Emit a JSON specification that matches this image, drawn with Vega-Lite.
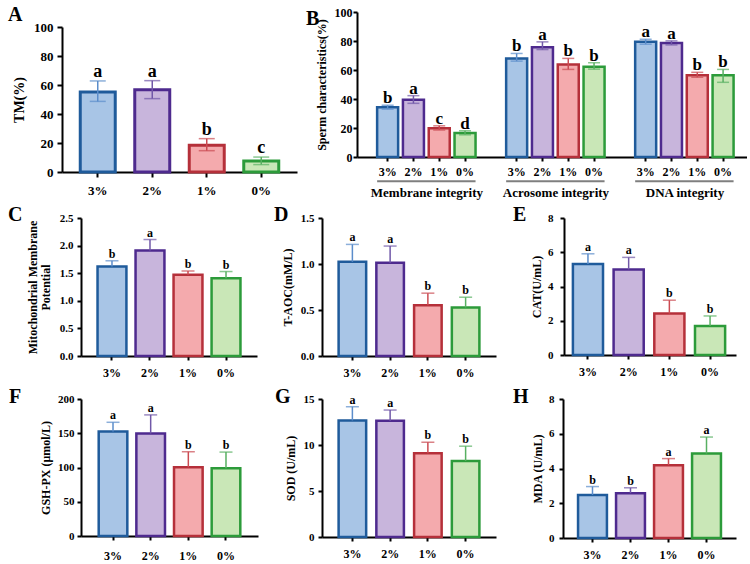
{
  "$schema": "https://vega.github.io/schema/vega-lite/v6.json",
  "padding": {"left": 8, "top": 5, "right": 0, "bottom": 0},
  "columns": 1,
  "align": "none",
  "spacing": 5,
  "datasets": {
    "A": [
      {"conc": "3%", "mean": 55.2, "lower": 48.7, "upper": 62.8, "sig": "a"},
      {"conc": "2%", "mean": 56.8, "lower": 50.6, "upper": 63.0, "sig": "a"},
      {"conc": "1%", "mean": 18.4, "lower": 14.7, "upper": 23.0, "sig": "b"},
      {"conc": "0%", "mean": 7.6, "lower": 5.1, "upper": 10.3, "sig": "c"}
    ],
    "B": [
      {"bar": "Membrane 3%", "conc": "3%", "mean": 34.3, "lower": 33.0, "upper": 35.7, "sig": "b"},
      {"bar": "Membrane 2%", "conc": "2%", "mean": 39.4, "lower": 37.0, "upper": 42.3, "sig": "a"},
      {"bar": "Membrane 1%", "conc": "1%", "mean": 19.9, "lower": 18.6, "upper": 21.5, "sig": "c"},
      {"bar": "Membrane 0%", "conc": "0%", "mean": 16.5, "lower": 15.3, "upper": 18.1, "sig": "d"},
      {"bar": "Acrosome 3%", "conc": "3%", "mean": 68.0, "lower": 66.1, "upper": 71.4, "sig": "b"},
      {"bar": "Acrosome 2%", "conc": "2%", "mean": 75.7, "lower": 74.1, "upper": 79.4, "sig": "a"},
      {"bar": "Acrosome 1%", "conc": "1%", "mean": 63.8, "lower": 60.4, "upper": 68.0, "sig": "b"},
      {"bar": "Acrosome 0%", "conc": "0%", "mean": 62.2, "lower": 60.6, "upper": 65.0, "sig": "b"},
      {"bar": "DNA 3%", "conc": "3%", "mean": 79.4, "lower": 77.8, "upper": 81.2, "sig": "a"},
      {"bar": "DNA 2%", "conc": "2%", "mean": 78.7, "lower": 77.3, "upper": 80.1, "sig": "a"},
      {"bar": "DNA 1%", "conc": "1%", "mean": 56.3, "lower": 55.0, "upper": 58.4, "sig": "b"},
      {"bar": "DNA 0%", "conc": "0%", "mean": 56.3, "lower": 51.5, "upper": 60.4, "sig": "b"}
    ],
    "Bgroups": [
      {"group": "Membrane integrity", "first": "Membrane 3%", "last": "Membrane 0%", "mid": "Membrane 2%"},
      {"group": "Acrosome integrity", "first": "Acrosome 3%", "last": "Acrosome 0%", "mid": "Acrosome 2%"},
      {"group": "DNA integrity", "first": "DNA 3%", "last": "DNA 0%", "mid": "DNA 2%"}
    ],
    "C": [
      {"conc": "3%", "mean": 1.62, "lower": 1.62, "upper": 1.725, "sig": "b"},
      {"conc": "2%", "mean": 1.91, "lower": 1.91, "upper": 2.11, "sig": "a"},
      {"conc": "1%", "mean": 1.47, "lower": 1.47, "upper": 1.54, "sig": "b"},
      {"conc": "0%", "mean": 1.41, "lower": 1.41, "upper": 1.53, "sig": "b"}
    ],
    "D": [
      {"conc": "3%", "mean": 1.024, "lower": 1.024, "upper": 1.213, "sig": "a"},
      {"conc": "2%", "mean": 1.013, "lower": 1.013, "upper": 1.195, "sig": "a"},
      {"conc": "1%", "mean": 0.552, "lower": 0.552, "upper": 0.683, "sig": "b"},
      {"conc": "0%", "mean": 0.527, "lower": 0.527, "upper": 0.639, "sig": "b"}
    ],
    "E": [
      {"conc": "3%", "mean": 5.31, "lower": 5.31, "upper": 5.91, "sig": "a"},
      {"conc": "2%", "mean": 5.0, "lower": 5.0, "upper": 5.7, "sig": "a"},
      {"conc": "1%", "mean": 2.42, "lower": 2.42, "upper": 3.2, "sig": "b"},
      {"conc": "0%", "mean": 1.7, "lower": 1.7, "upper": 2.28, "sig": "b"}
    ],
    "F": [
      {"conc": "3%", "mean": 152.5, "lower": 152.5, "upper": 166, "sig": "a"},
      {"conc": "2%", "mean": 149.6, "lower": 149.6, "upper": 176.8, "sig": "a"},
      {"conc": "1%", "mean": 100.2, "lower": 100.2, "upper": 123, "sig": "b"},
      {"conc": "0%", "mean": 98.8, "lower": 98.8, "upper": 122.5, "sig": "b"}
    ],
    "G": [
      {"conc": "3%", "mean": 12.67, "lower": 12.67, "upper": 14.16, "sig": "a"},
      {"conc": "2%", "mean": 12.63, "lower": 12.63, "upper": 13.8, "sig": "a"},
      {"conc": "1%", "mean": 9.1, "lower": 9.1, "upper": 10.3, "sig": "b"},
      {"conc": "0%", "mean": 8.26, "lower": 8.26, "upper": 9.87, "sig": "b"}
    ],
    "H": [
      {"conc": "3%", "mean": 2.48, "lower": 2.48, "upper": 2.96, "sig": "b"},
      {"conc": "2%", "mean": 2.58, "lower": 2.58, "upper": 2.89, "sig": "b"},
      {"conc": "1%", "mean": 4.19, "lower": 4.19, "upper": 4.57, "sig": "a"},
      {"conc": "0%", "mean": 4.86, "lower": 4.86, "upper": 5.81, "sig": "a"}
    ]
  },
  "concat": [
    {
      "spacing": -10,
      "hconcat": [
        {
          "data": {"name": "A"},
          "width": 216,
          "height": 160,
          "title": {"text": "A", "dx": -73, "offset": -13.2},
          "encoding": {
            "x": {"field": "conc", "type": "nominal", "title": null,
                  "scale": {"domain": ["3%", "2%", "1%", "0%"], "range": [-19, 216], "paddingInner": 0.358, "paddingOuter": 0.335},
                  "axis": {"labelFontSize": 13, "tickSize": 5, "labelPadding": 7}}
          },
          "layer": [
            {
              "mark": {"type": "bar", "strokeWidth": 3},
              "encoding": {
                "y": {"field": "mean", "type": "quantitative", "scale": {"domain": [0, 100], "range": [160, 15], "nice": false},
                      "axis": {"title": "TM(%)", "offset": 19, "values": [0, 20, 40, 60, 80, 100], "tickCount": 20, "format": "d", "labelOverlap": false, "labelFontSize": 13, "titleFontSize": 14, "tickSize": 5, "labelPadding": 4, "titlePadding": 7}},
                "fill": {"field": "conc", "type": "nominal", "legend": null, "scale": {"domain": ["3%", "2%", "1%", "0%"], "range": ["#a8c5e6", "#c8b5dc", "#f4aaad", "#c9e7b7"]}},
                "stroke": {"field": "conc", "type": "nominal", "legend": null, "scale": {"domain": ["3%", "2%", "1%", "0%"], "range": ["#1f5b9b", "#4e2a8e", "#b5303a", "#2c9b3a"]}}
              }
            },
            {
              "mark": "rule",
              "encoding": {
                "y": {"field": "lower", "type": "quantitative"},
                "y2": {"field": "upper"},
                "color": {"field": "conc", "type": "nominal", "legend": null, "scale": {"domain": ["3%", "2%", "1%", "0%"], "range": ["#5b8dcb", "#7158a8", "#cb4b52", "#58b062"]}}
              }
            },
            {
              "mark": {"type": "tick", "size": 16},
              "encoding": {
                "y": {"field": "upper", "type": "quantitative"},
                "color": {"field": "conc", "type": "nominal", "legend": null}
              }
            },
            {
              "mark": {"type": "tick", "size": 16},
              "encoding": {
                "y": {"field": "lower", "type": "quantitative"},
                "color": {"field": "conc", "type": "nominal", "legend": null}
              }
            },
            {
              "mark": {"type": "text", "fontSize": 18, "dy": -4},
              "encoding": {
                "y": {"field": "upper", "type": "quantitative"},
                "text": {"field": "sig"}
              }
            }
          ]
        },
        {
          "data": {"name": "B"},
          "width": 390,
          "height": 145,
          "title": {"text": "B", "dx": -51, "offset": -23},
          "layer": [
            {
              "mark": {"type": "bar", "strokeWidth": 2.5},
              "encoding": {
                "x": {"field": "bar", "type": "nominal", "title": null,
                      "scale": {"domain": ["Membrane 3%", "Membrane 2%", "Membrane 1%", "Membrane 0%", "gap1", "Acrosome 3%", "Acrosome 2%", "Acrosome 1%", "Acrosome 0%", "gap2", "DNA 3%", "DNA 2%", "DNA 1%", "DNA 0%"], "paddingInner": 0.186, "paddingOuter": 0.65, "align": 0.6},
                      "axis": {"values": ["Membrane 3%", "Membrane 2%", "Membrane 1%", "Membrane 0%", "Acrosome 3%", "Acrosome 2%", "Acrosome 1%", "Acrosome 0%", "DNA 3%", "DNA 2%", "DNA 1%", "DNA 0%"], "labelExpr": "split(datum.label, ' ')[1]", "labelFontSize": 12, "labelPadding": 5.5}},
                "y": {"field": "mean", "type": "quantitative", "scale": {"domain": [0, 100], "nice": false},
                      "axis": {"title": "Sperm characteristics(%)", "values": [0, 20, 40, 60, 80, 100], "tickCount": 20, "format": "d", "labelOverlap": false, "labelFontSize": 12, "labelPadding": 1, "titlePadding": 6}},
                "fill": {"field": "conc", "type": "nominal", "legend": null, "scale": {"domain": ["3%", "2%", "1%", "0%"], "range": ["#a8c5e6", "#c8b5dc", "#f4aaad", "#c9e7b7"]}},
                "stroke": {"field": "conc", "type": "nominal", "legend": null, "scale": {"domain": ["3%", "2%", "1%", "0%"], "range": ["#1f5b9b", "#4e2a8e", "#b5303a", "#2c9b3a"]}}
              }
            },
            {
              "mark": "rule",
              "encoding": {
                "x": {"field": "bar", "type": "nominal"},
                "y": {"field": "lower", "type": "quantitative"},
                "y2": {"field": "upper"},
                "color": {"field": "conc", "type": "nominal", "legend": null}
              }
            },
            {
              "mark": {"type": "tick", "size": 12},
              "encoding": {
                "x": {"field": "bar", "type": "nominal"},
                "y": {"field": "upper", "type": "quantitative"},
                "color": {"field": "conc", "type": "nominal", "legend": null}
              }
            },
            {
              "mark": {"type": "tick", "size": 12},
              "encoding": {
                "x": {"field": "bar", "type": "nominal"},
                "y": {"field": "lower", "type": "quantitative"},
                "color": {"field": "conc", "type": "nominal", "legend": null}
              }
            },
            {
              "mark": {"type": "text", "fontSize": 17, "dy": -2},
              "encoding": {
                "x": {"field": "bar", "type": "nominal"},
                "y": {"field": "upper", "type": "quantitative"},
                "text": {"field": "sig"}
              }
            },
            {
              "data": {"name": "Bgroups"},
              "mark": {"type": "rule", "color": "#7f7f7f", "strokeWidth": 2},
              "encoding": {
                "x": {"field": "first", "type": "nominal", "bandPosition": 0},
                "x2": {"field": "last", "bandPosition": 1},
                "y": {"datum": -16.8}
              }
            },
            {
              "data": {"name": "Bgroups"},
              "mark": {"type": "text", "baseline": "middle", "dy": 0, "dx": 3, "fontSize": 13},
              "encoding": {
                "x": {"field": "mid", "type": "nominal", "bandPosition": 1},
                "y": {"datum": -24.6},
                "text": {"field": "group"}
              }
            }
          ]
        }
      ]
    },
    {
      "spacing": 8,
      "vconcat": [
        {
          "spacing": 17,
          "hconcat": [
            {
              "data": {"name": "C"},
              "width": 176,
              "height": 138,
              "title": {"text": "C", "dx": -73, "offset": -13},
              "encoding": {
                "x": {"field": "conc", "type": "nominal", "title": null,
                      "scale": {"domain": ["3%", "2%", "1%", "0%"], "paddingInner": 0.24, "paddingOuter": 0.435}}
              },
              "layer": [
                {
                  "mark": "bar",
                  "encoding": {
                    "y": {"field": "mean", "type": "quantitative", "scale": {"domain": [0, 2.5], "nice": false},
                          "axis": {"title": ["Mitochondrial Membrane", "Potential"], "values": [0, 0.5, 1, 1.5, 2, 2.5], "tickCount": 20, "format": ".1f", "labelOverlap": false, "labelPadding": 4, "titlePadding": 7}},
                    "fill": {"field": "conc", "type": "nominal", "legend": null},
                    "stroke": {"field": "conc", "type": "nominal", "legend": null}
                  }
                },
                {"mark": "rule", "encoding": {"y": {"field": "lower", "type": "quantitative"}, "y2": {"field": "upper"}, "color": {"field": "conc", "type": "nominal", "legend": null}}},
                {"mark": {"type": "tick", "size": 13}, "encoding": {"y": {"field": "upper", "type": "quantitative"}, "color": {"field": "conc", "type": "nominal", "legend": null}}},
                {"mark": "text", "encoding": {"y": {"field": "upper", "type": "quantitative"}, "text": {"field": "sig"}}}
              ]
            },
            {
              "data": {"name": "D"},
              "width": 174,
              "height": 138,
              "title": {"text": "D", "dx": -48, "offset": -13},
              "encoding": {
                "x": {"field": "conc", "type": "nominal", "title": null,
                      "scale": {"domain": ["3%", "2%", "1%", "0%"], "paddingInner": 0.27, "paddingOuter": 0.44}}
              },
              "layer": [
                {
                  "mark": "bar",
                  "encoding": {
                    "y": {"field": "mean", "type": "quantitative", "scale": {"domain": [0, 1.5], "nice": false},
                          "axis": {"title": "T-AOC(mM/L)", "values": [0, 0.5, 1, 1.5], "tickCount": 20, "format": ".1f", "labelOverlap": false, "labelPadding": 4, "titlePadding": 6}},
                    "fill": {"field": "conc", "type": "nominal", "legend": null},
                    "stroke": {"field": "conc", "type": "nominal", "legend": null}
                  }
                },
                {"mark": "rule", "encoding": {"y": {"field": "lower", "type": "quantitative"}, "y2": {"field": "upper"}, "color": {"field": "conc", "type": "nominal", "legend": null}}},
                {"mark": {"type": "tick", "size": 13}, "encoding": {"y": {"field": "upper", "type": "quantitative"}, "color": {"field": "conc", "type": "nominal", "legend": null}}},
                {"mark": "text", "encoding": {"y": {"field": "upper", "type": "quantitative"}, "text": {"field": "sig"}}}
              ]
            },
            {
              "data": {"name": "E"},
              "width": 172,
              "height": 137,
              "title": {"text": "E", "dx": -51, "offset": -13},
              "encoding": {
                "x": {"field": "conc", "type": "nominal", "title": null,
                      "scale": {"domain": ["3%", "2%", "1%", "0%"], "paddingInner": 0.26, "paddingOuter": 0.243, "align": 0.45}}
              },
              "layer": [
                {
                  "mark": "bar",
                  "encoding": {
                    "y": {"field": "mean", "type": "quantitative", "scale": {"domain": [0, 8], "nice": false},
                          "axis": {"title": "CAT(U/mL)", "values": [0, 2, 4, 6, 8], "tickCount": 20, "format": "d", "labelOverlap": false, "labelPadding": 7, "titlePadding": 4}},
                    "fill": {"field": "conc", "type": "nominal", "legend": null},
                    "stroke": {"field": "conc", "type": "nominal", "legend": null}
                  }
                },
                {"mark": "rule", "encoding": {"y": {"field": "lower", "type": "quantitative"}, "y2": {"field": "upper"}, "color": {"field": "conc", "type": "nominal", "legend": null}}},
                {"mark": {"type": "tick", "size": 13}, "encoding": {"y": {"field": "upper", "type": "quantitative"}, "color": {"field": "conc", "type": "nominal", "legend": null}}},
                {"mark": "text", "encoding": {"y": {"field": "upper", "type": "quantitative"}, "text": {"field": "sig"}}}
              ]
            }
          ]
        },
        {
          "spacing": 17,
          "hconcat": [
            {
              "data": {"name": "F"},
              "width": 177,
              "height": 137,
              "title": {"text": "F", "dx": -72, "offset": -13.5},
              "encoding": {
                "x": {"field": "conc", "type": "nominal", "title": null,
                      "scale": {"domain": ["3%", "2%", "1%", "0%"], "paddingInner": 0.24, "paddingOuter": 0.47},
                      "axis": {"labelPadding": 10}}
              },
              "layer": [
                {
                  "mark": "bar",
                  "encoding": {
                    "y": {"field": "mean", "type": "quantitative", "scale": {"domain": [0, 200], "nice": false},
                          "axis": {"title": "GSH-PX (μmol/L)", "values": [0, 50, 100, 150, 200], "tickCount": 20, "format": "d", "labelOverlap": false, "labelPadding": 3, "titlePadding": 5.5}},
                    "fill": {"field": "conc", "type": "nominal", "legend": null},
                    "stroke": {"field": "conc", "type": "nominal", "legend": null}
                  }
                },
                {"mark": "rule", "encoding": {"y": {"field": "lower", "type": "quantitative"}, "y2": {"field": "upper"}, "color": {"field": "conc", "type": "nominal", "legend": null}}},
                {"mark": {"type": "tick", "size": 13}, "encoding": {"y": {"field": "upper", "type": "quantitative"}, "color": {"field": "conc", "type": "nominal", "legend": null}}},
                {"mark": "text", "encoding": {"y": {"field": "upper", "type": "quantitative"}, "text": {"field": "sig"}}}
              ]
            },
            {
              "data": {"name": "G"},
              "width": 174,
              "height": 138,
              "title": {"text": "G", "dx": -47, "offset": -13.5},
              "encoding": {
                "x": {"field": "conc", "type": "nominal", "title": null,
                      "scale": {"domain": ["3%", "2%", "1%", "0%"], "paddingInner": 0.27, "paddingOuter": 0.44}}
              },
              "layer": [
                {
                  "mark": "bar",
                  "encoding": {
                    "y": {"field": "mean", "type": "quantitative", "scale": {"domain": [0, 15], "nice": false},
                          "axis": {"title": "SOD (U/mL)", "values": [0, 5, 10, 15], "tickCount": 20, "format": "d", "labelOverlap": false, "labelPadding": 4, "titlePadding": 5.5}},
                    "fill": {"field": "conc", "type": "nominal", "legend": null},
                    "stroke": {"field": "conc", "type": "nominal", "legend": null}
                  }
                },
                {"mark": "rule", "encoding": {"y": {"field": "lower", "type": "quantitative"}, "y2": {"field": "upper"}, "color": {"field": "conc", "type": "nominal", "legend": null}}},
                {"mark": {"type": "tick", "size": 13}, "encoding": {"y": {"field": "upper", "type": "quantitative"}, "color": {"field": "conc", "type": "nominal", "legend": null}}},
                {"mark": "text", "encoding": {"y": {"field": "upper", "type": "quantitative"}, "text": {"field": "sig"}}}
              ]
            },
            {
              "data": {"name": "H"},
              "width": 173,
              "height": 139,
              "title": {"text": "H", "dx": -50, "offset": -13.5},
              "encoding": {
                "x": {"field": "conc", "type": "nominal", "title": null,
                      "scale": {"domain": ["3%", "2%", "1%", "0%"], "paddingInner": 0.24, "paddingOuter": 0.396}}
              },
              "layer": [
                {
                  "mark": "bar",
                  "encoding": {
                    "y": {"field": "mean", "type": "quantitative", "scale": {"domain": [0, 8], "nice": false},
                          "axis": {"title": "MDA (U/mL)", "values": [0, 2, 4, 6, 8], "tickCount": 20, "format": "d", "labelOverlap": false, "labelPadding": 5, "titlePadding": 4}},
                    "fill": {"field": "conc", "type": "nominal", "legend": null},
                    "stroke": {"field": "conc", "type": "nominal", "legend": null}
                  }
                },
                {"mark": "rule", "encoding": {"y": {"field": "lower", "type": "quantitative"}, "y2": {"field": "upper"}, "color": {"field": "conc", "type": "nominal", "legend": null}}},
                {"mark": {"type": "tick", "size": 13}, "encoding": {"y": {"field": "upper", "type": "quantitative"}, "color": {"field": "conc", "type": "nominal", "legend": null}}},
                {"mark": "text", "encoding": {"y": {"field": "upper", "type": "quantitative"}, "text": {"field": "sig"}}}
              ]
            }
          ]
        }
      ]
    }
  ],
  "config": {
    "font": "Liberation Serif",
    "background": "#ffffff",
    "view": {"stroke": null},
    "axis": {
      "grid": false,
      "labelOverlap": false,
      "domainColor": "#000000",
      "domainWidth": 2,
      "tickColor": "#000000",
      "tickWidth": 2,
      "tickSize": 4,
      "labelColor": "#000000",
      "titleColor": "#000000",
      "labelFont": "Liberation Serif",
      "titleFont": "Liberation Serif",
      "labelFontWeight": "bold",
      "titleFontWeight": "bold",
      "labelFontSize": 11,
      "titleFontSize": 12,
      "titleLineHeight": 13
    },
    "axisX": {"labelAngle": 0, "labelFontSize": 12, "labelPadding": 7},
    "title": {"font": "Liberation Serif", "fontSize": 20, "fontWeight": "bold", "anchor": "start", "frame": "group", "color": "#000000"},
    "text": {"font": "Liberation Serif", "fontWeight": "bold", "baseline": "alphabetic", "dy": -3, "fontSize": 12, "color": "#000000"},
    "tick": {"thickness": 1.5},
    "rule": {"strokeWidth": 1.5},
    "bar": {"strokeWidth": 2.5}
  }
}
